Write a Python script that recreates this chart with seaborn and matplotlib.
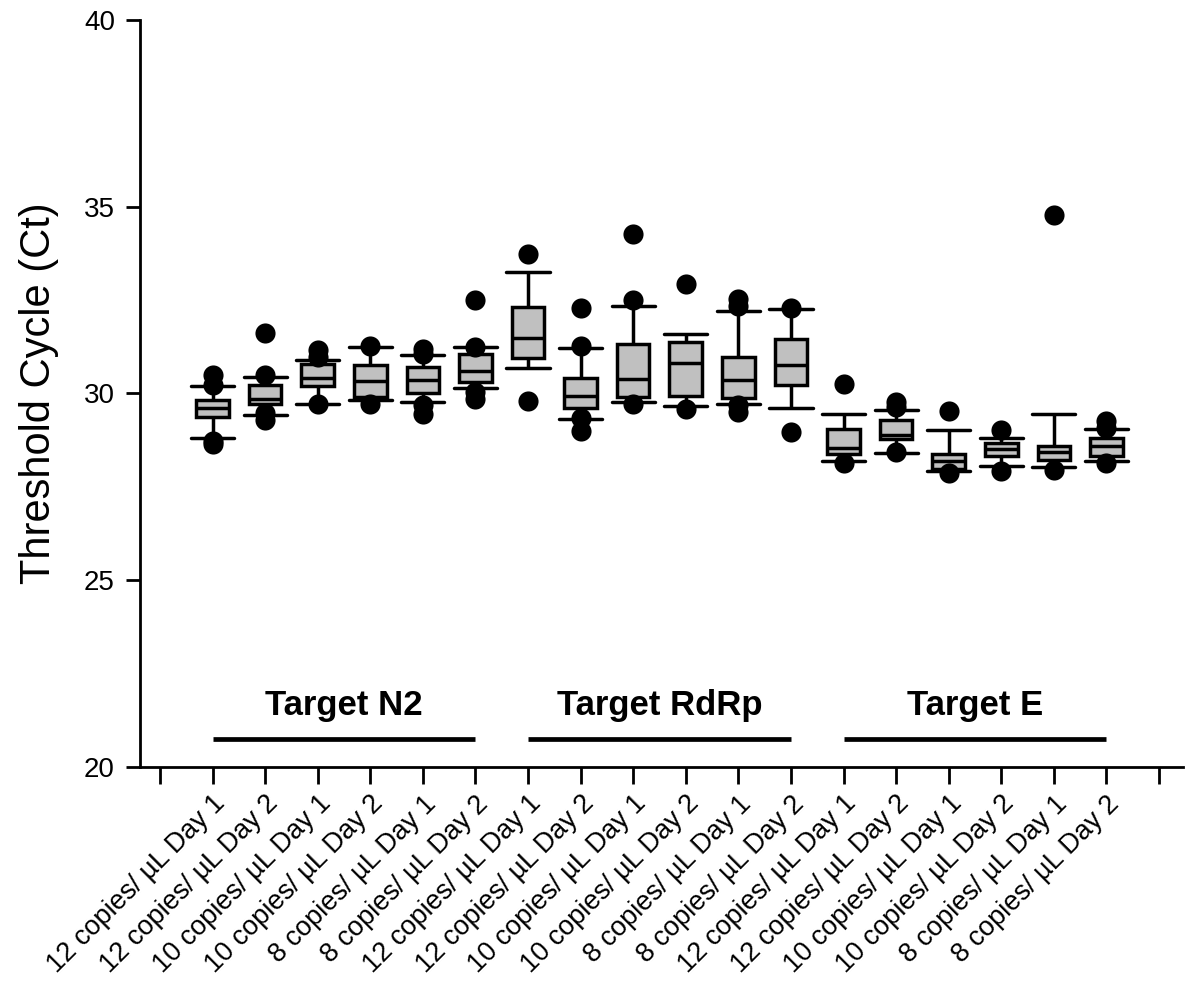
import matplotlib
matplotlib.use("Agg")
import matplotlib.pyplot as plt
import seaborn as sns
import numpy as np
import pandas as pd

# Box statistics (Ct values), one entry per condition
labels = ["12 copies/ µL Day 1", "12 copies/ µL Day 2",
          "10 copies/ µL Day 1", "10 copies/ µL Day 2",
          "8 copies/ µL Day 1", "8 copies/ µL Day 2"] * 3
whisker_low = [28.82, 29.42, 29.73, 29.82, 29.77, 30.14,
               30.69, 29.32, 29.78, 29.66, 29.71, 29.61,
               28.19, 28.41, 27.92, 28.06, 28.03, 28.19]
q1 = [29.37, 29.73, 30.20, 29.91, 30.00, 30.30,
      30.96, 29.62, 29.91, 29.93, 29.89, 30.22,
      28.39, 28.77, 27.99, 28.33, 28.23, 28.33]
median = [29.60, 29.85, 30.40, 30.34, 30.36, 30.60,
          31.48, 29.94, 30.39, 30.82, 30.36, 30.75,
          28.53, 28.90, 28.20, 28.50, 28.42, 28.59]
q3 = [29.82, 30.22, 30.78, 30.76, 30.71, 31.05,
      32.32, 30.42, 31.32, 31.38, 30.98, 31.47,
      29.06, 29.29, 28.39, 28.66, 28.60, 28.82]
whisker_high = [30.20, 30.45, 30.89, 31.25, 31.02, 31.23,
                33.24, 31.21, 32.34, 31.58, 32.21, 32.26,
                29.44, 29.55, 29.02, 28.80, 29.44, 29.05]
outliers = [
    [30.50, 30.22, 28.72, 28.65],
    [31.63, 30.50, 29.48, 29.30],
    [31.16, 30.98, 29.71],
    [31.27, 29.73],
    [31.20, 31.05, 29.70, 29.45],
    [32.49, 31.25, 30.05, 29.85],
    [33.72, 29.79],
    [32.29, 31.27, 29.33, 29.00],
    [34.28, 32.50, 29.72],
    [32.93, 29.58],
    [32.54, 32.35, 29.70, 29.50],
    [32.28, 28.96],
    [30.24, 28.15],
    [29.76, 29.65, 28.42],
    [29.53, 27.88],
    [29.02, 27.92],
    [34.77, 27.95],
    [29.25, 29.08, 28.15],
]
groups = ["Target N2", "Target RdRp", "Target E"]
group_start = [1, 7, 13]
group_end = [6, 12, 18]

# x positions 1..18, position 0 and 19 stay empty like in the original
pos = np.arange(1, len(labels) + 1)

# five values per box -> percentiles 0/25/50/75/100 give exactly the stats
rows = []
for i, p in enumerate(pos):
    for v in [whisker_low[i], q1[i], median[i], q3[i], whisker_high[i]]:
        rows.append({"pos": p, "Ct": v})
df_box = pd.DataFrame(rows)
df_out = pd.DataFrame([{"pos": p, "Ct": v}
                       for p, vals in zip(pos, outliers) for v in vals])

sns.set_theme(style="ticks")
plt.rcParams["font.family"] = ["Liberation Sans", "DejaVu Sans"]
plt.rcParams.update({"text.color": "black", "axes.labelcolor": "black",
                     "xtick.color": "black", "ytick.color": "black"})

fig = plt.figure(figsize=(11.89, 9.91), dpi=100)
ax = fig.add_axes([0.1177, 0.226, 0.877, 0.754])

sns.boxplot(data=df_box, x="pos", y="Ct", native_scale=True, whis=(0, 100),
            width=0.62, color="#c0c0c0", saturation=1, linecolor="black",
            linewidth=2.5, showfliers=False, ax=ax)

# wider caps, SigmaPlot style
for cap in ax.containers[0].caps:
    xs = cap.get_xdata()
    c = np.mean(xs)
    cap.set_xdata([c - 0.41, c + 0.41])

sns.scatterplot(data=df_out, x="pos", y="Ct", color="black", s=210,
                edgecolor="black", linewidth=0, zorder=5, legend=False, ax=ax)

# group bars + names
for name, a, b in zip(groups, group_start, group_end):
    ax.plot([a, b], [20.75, 20.75], color="black", lw=3.4,
            solid_capstyle="butt")
    ax.text((a + b) / 2, 21.65, name, ha="center", va="center",
            fontsize=25, fontweight="bold")

ax.set_ylim(20, 40)
ax.set_xlim(-0.38, 19.45)
ax.set_yticks([20, 25, 30, 35, 40])
ax.set_xticks(np.arange(0, 20))
ax.set_xticklabels([""] + labels + [""], rotation=45, ha="right",
                   rotation_mode="anchor", fontsize=19.5)
ax.tick_params(axis="y", labelsize=20, length=10, width=2, direction="out",
               pad=8)
ax.tick_params(axis="x", length=12, width=2, direction="out", pad=5)
ax.set_xlabel("")
ax.set_ylabel("Threshold Cycle (Ct)", fontsize=30, labelpad=18)
sns.despine(ax=ax)
for s in ["left", "bottom"]:
    ax.spines[s].set_linewidth(2)
    ax.spines[s].set_color("black")

fig.savefig("out.png", dpi=100)
